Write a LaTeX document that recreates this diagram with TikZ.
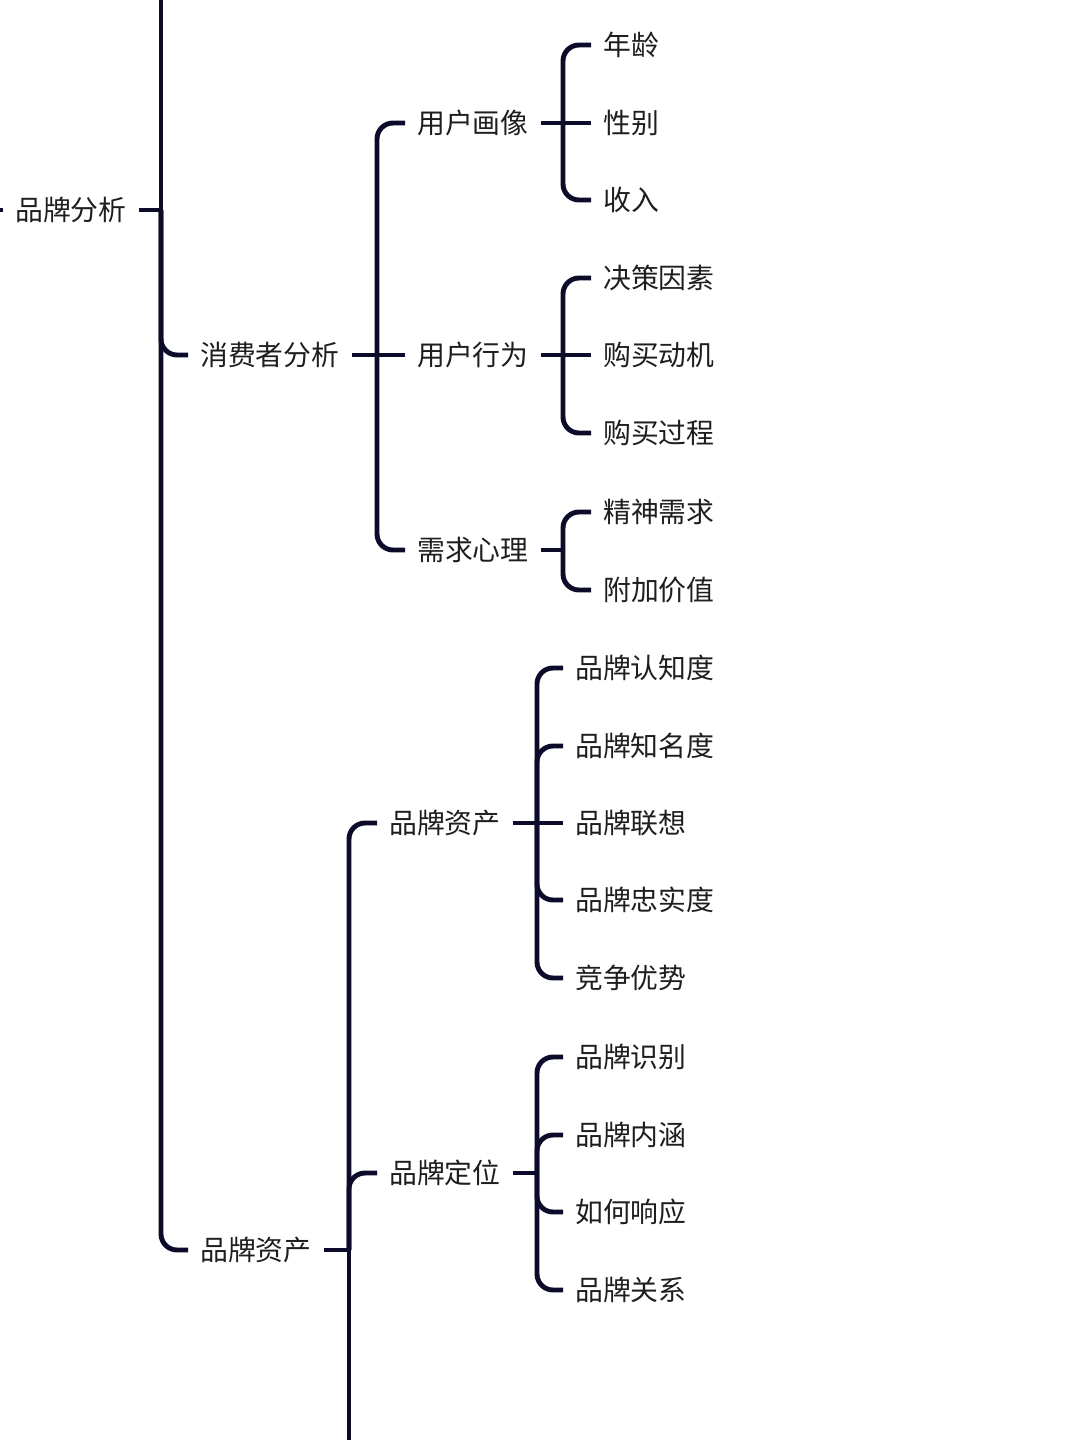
\documentclass[tikz,border=0pt]{standalone}
\usepackage{fontspec}
\newfontfamily\cjk{Noto Sans CJK SC}
\definecolor{linenavy}{HTML}{0C0C2A}
\definecolor{textgray}{HTML}{1E1E1E}
\tikzset{
    topic/.style={anchor=west, inner xsep=0.3cm, inner ysep=0pt, text=textgray,
        font=\cjk\fontsize{19.8}{20}\selectfont},
    branch/.style={line width=3.5pt, draw=linenavy},
    round/.style={rounded corners=0.4cm},
    flat/.style={sharp corners},
}

\begin{document}
\begin{tikzpicture}[x=0.025cm, y=-0.025cm]
    \useasboundingbox (0,0) rectangle (1080,1440);

    % Root level
    \node[topic] (brand) at (3,210) {品牌分析};
    \coordinate (up) at (0,210);
    \coordinate (top) at (161,0);
    \coordinate (jm) at (161,210);
    \node[topic] (cons) at (188,355) {消费者分析};
    \node[topic] (asset) at (188,1250) {品牌资产};
    \draw[branch] (up) -- (brand.west);
    \draw[branch] (brand.east) -- (jm);
    \draw[branch] (jm) -- (top);
    \draw[branch, round] (jm) |- (cons.west);
    \draw[branch, round] (jm) |- (asset.west);

    % Consumer analysis
    \coordinate (jc) at (377,355);
    \node[topic] (portrait) at (405,123) {用户画像};
    \node[topic] (behav) at (405,355) {用户行为};
    \node[topic] (psych) at (405,550) {需求心理};
    \draw[branch] (cons.east) -- (jc);
    \draw[branch, round] (jc) |- (portrait.west);
    \draw[branch] (jc) -- (behav.west);
    \draw[branch, round] (jc) |- (psych.west);

    % User portrait
    \coordinate (jp) at (563,123);
    \draw[branch] (portrait.east) -- (jp);
    \foreach \t/\y/\c [count=\i] in {年龄/45/round, 性别/123/flat, 收入/200/round} {
        \node[topic] (p\i) at (591,\y) {\t};
        \draw[branch, \c] (jp) |- (p\i.west);
    }

    % User behaviour
    \coordinate (jb) at (563,355);
    \draw[branch] (behav.east) -- (jb);
    \foreach \t/\y/\c [count=\i] in {决策因素/278/round, 购买动机/355/flat, 购买过程/433/round} {
        \node[topic] (b\i) at (591,\y) {\t};
        \draw[branch, \c] (jb) |- (b\i.west);
    }

    % Demand psychology
    \coordinate (jd) at (563,550);
    \draw[branch] (psych.east) -- (jd);
    \foreach \t/\y [count=\i] in {精神需求/512, 附加价值/590} {
        \node[topic] (d\i) at (591,\y) {\t};
        \draw[branch, round] (jd) |- (d\i.west);
    }

    % Brand assets
    \coordinate (ja) at (349,1250);
    \coordinate (bot) at (349,1440);
    \node[topic] (equity) at (377,823) {品牌资产};
    \node[topic] (posit) at (377,1173) {品牌定位};
    \draw[branch] (asset.east) -- (ja);
    \draw[branch, round] (ja) |- (equity.west);
    \draw[branch, round] (ja) |- (posit.west);
    \draw[branch] (ja) -- (bot);

    % Brand equity
    \coordinate (je) at (537,823);
    \draw[branch] (equity.east) -- (je);
    \foreach \t/\y/\c [count=\i] in {品牌认知度/668/round, 品牌知名度/746/round, 品牌联想/823/flat, 品牌忠实度/900/round, 竞争优势/978/round} {
        \node[topic] (e\i) at (563,\y) {\t};
        \draw[branch, \c] (je) |- (e\i.west);
    }

    % Brand positioning
    \coordinate (jq) at (537,1173);
    \draw[branch] (posit.east) -- (jq);
    \foreach \t/\y [count=\i] in {品牌识别/1057, 品牌内涵/1135, 如何响应/1212, 品牌关系/1290} {
        \node[topic] (q\i) at (563,\y) {\t};
        \draw[branch, round] (jq) |- (q\i.west);
    }

\end{tikzpicture}
\end{document}
